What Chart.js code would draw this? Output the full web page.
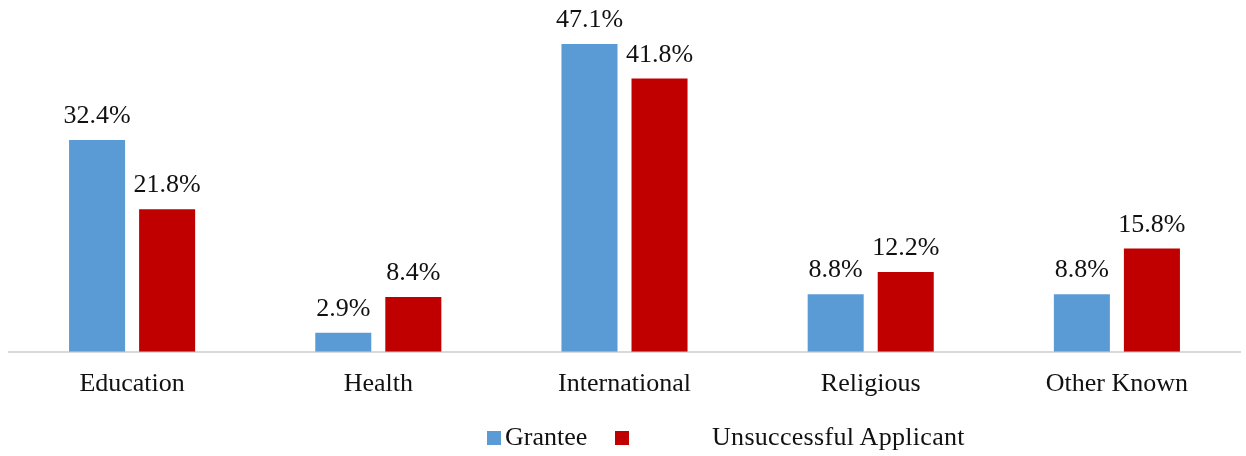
<!DOCTYPE html>
<html>
<head>
    <style>
        body {
            margin: 0;
            padding: 0;
            background: #fff;
        }

        .wrap {
            position: relative;
            width: 1246px;
            height: 456px;
        }

        .legend-box {
            position: absolute;
            width: 14px;
            height: 14px;
        }

        .legend-text {
            position: absolute;
            font-family: "Liberation Serif", "Times New Roman", serif;
            font-size: 26px;
            line-height: 26px;
            color: #111;
            white-space: nowrap;
        }
    </style>
    <title>Grantee vs Unsuccessful Applicant</title>
    <script src="https://cdn.jsdelivr.net/npm/chart.js@4.4.0/dist/chart.umd.min.js"></script>
</head>
<body>
    <div class="wrap">
        <canvas id="chart" width="1246" height="456"></canvas>
        <div class="legend-box" style="left:487px; top:431px; background:#5B9BD5;"></div>
        <div class="legend-text" style="left:505px; top:424px;">Grantee</div>
        <div class="legend-box" style="left:615px; top:431px; background:#C00000;"></div>
        <div class="legend-text" style="left:712px; top:424px; letter-spacing:0.3px;">Unsuccessful Applicant</div>
    </div>

  <script>
    const categories = ['Education', 'Health', 'International', 'Religious', 'Other Known'];
    const grantee = [32.4, 2.9, 47.1, 8.8, 8.8];
    const unsuccessful = [21.8, 8.4, 41.8, 12.2, 15.8];

    const serif = '"Liberation Serif", "Times New Roman", serif';

    // draws the percent labels above each bar
    const valueLabels = {
      id: 'valueLabels',
      afterDatasetsDraw(chart) {
        const ctx = chart.ctx;
        ctx.save();
        ctx.font = '26px ' + serif;
        ctx.fillStyle = '#111';
        ctx.textAlign = 'center';
        ctx.textBaseline = 'alphabetic';
        chart.data.datasets.forEach((ds, i) => {
          chart.getDatasetMeta(i).data.forEach((bar, j) => {
            ctx.fillText(ds.data[j].toFixed(1) + '%', bar.x, bar.y - 17);
          });
        });
        ctx.restore();
      }
    };

    const ctx = document.getElementById('chart').getContext('2d');
    new Chart(ctx, {
      type: 'bar',
      data: {
        labels: categories,
        datasets: [{
          label: 'Grantee',
          data: grantee,
          backgroundColor: '#5B9BD5'
        }, {
          label: 'Unsuccessful Applicant',
          data: unsuccessful,
          backgroundColor: '#C00000'
        }]
      },
      options: {
        responsive: false,
        animation: false,
        layout: {
          padding: { top: 25, left: 9, right: 6, bottom: 39 }
        },
        categoryPercentage: 0.569,
        barPercentage: 0.8,
        plugins: {
          legend: { display: false },
          tooltip: { enabled: false }
        },
        scales: {
          x: {
            grid: { display: false, drawTicks: false },
            border: { color: '#d9d9d9', width: 2 },
            ticks: {
              color: '#111',
              padding: 17,
              font: { family: serif, size: 26 }
            }
          },
          y: {
            display: false,
            min: 0,
            max: 50
          }
        }
      },
      plugins: [valueLabels]
    });
  </script>
</body>
</html>
